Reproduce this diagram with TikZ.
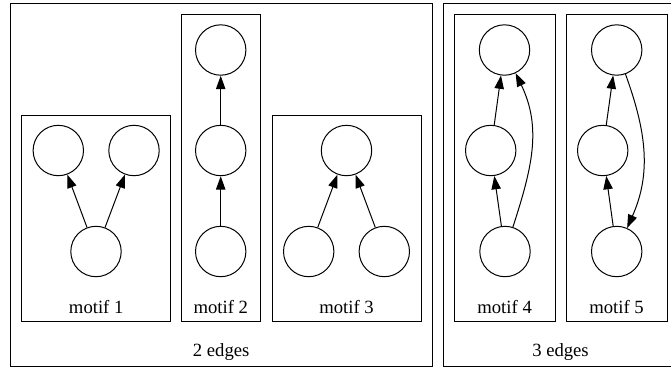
\documentclass[tikz,border=0pt]{standalone}
\usepackage{fontspec}
\setmainfont{Liberation Serif}
\usetikzlibrary{arrows.meta}
\begin{document}
\begin{tikzpicture}[x=0.75pt,y=-0.75pt,
  vert/.style={circle,draw,line width=0.75pt,minimum size=37.8pt,inner sep=0pt},
  edge/.style={draw,line width=0.75pt,-{Triangle[length=10pt,width=7pt]}},
  cluster/.style={draw,line width=0.75pt},
  lbl/.style={font=\fontsize{14}{16}\selectfont,inner sep=0pt}]
\clip (0,0) rectangle (671,369);

% outer clusters
\draw[cluster] (10.5,3) rectangle (432,366.5);
\draw[cluster] (443,3) rectangle (678,366.5);
\node[lbl] (e2) at (221.2,351.7) {2 edges};
\node[lbl] (e3) at (560.5,351.7) {3 edges};

% inner clusters
\draw[cluster] (21.7,115) rectangle (170.7,321.7);
\draw[cluster] (181.7,14) rectangle (260,321.7);
\draw[cluster] (272,115) rectangle (421,321.7);
\draw[cluster] (454.3,14) rectangle (555,321.7);
\draw[cluster] (566,14) rectangle (667,321.7);
\node[lbl] (t1) at (96.2,306.7) {motif 1};
\node[lbl] (t2) at (220.8,306.7) {motif 2};
\node[lbl] (t3) at (346.5,306.7) {motif 3};
\node[lbl] (t4) at (504.6,306.7) {motif 4};
\node[lbl] (t5) at (616.5,306.7) {motif 5};

% vertices
\node[vert] (m1a) at (58.3,150.5) {};
\node[vert] (m1b) at (134,150.5) {};
\node[vert] (m1c) at (96,251.5) {};
\node[vert] (m2a) at (220.7,50) {};
\node[vert] (m2b) at (220.7,150.5) {};
\node[vert] (m2c) at (220.7,251.5) {};
\node[vert] (m3a) at (346.5,150.5) {};
\node[vert] (m3b) at (308.7,251.5) {};
\node[vert] (m3c) at (384.3,251.5) {};
\node[vert] (m4a) at (504.5,50) {};
\node[vert] (m4b) at (490.7,150.5) {};
\node[vert] (m4c) at (505,251.5) {};
\node[vert] (m5a) at (616.7,50) {};
\node[vert] (m5b) at (602.7,150.5) {};
\node[vert] (m5c) at (616.7,251.5) {};

% edges
\draw[edge] (m1c) -- (m1a);
\draw[edge] (m1c) -- (m1b);
\draw[edge] (m2c) -- (m2b);
\draw[edge] (m2b) -- (m2a);
\draw[edge] (m3b) -- (m3a);
\draw[edge] (m3c) -- (m3a);
\draw[edge] (m4c) -- (m4b);
\draw[edge] (m4b) -- (m4a);
\draw[edge] (m4c) .. controls (532,168) and (542,128) .. (m4a);
\draw[edge] (m5c) -- (m5b);
\draw[edge] (m5b) -- (m5a);
\draw[edge] (m5a) .. controls (646.5,132) and (651.4,173.3) .. (m5c);
\end{tikzpicture}
\end{document}
